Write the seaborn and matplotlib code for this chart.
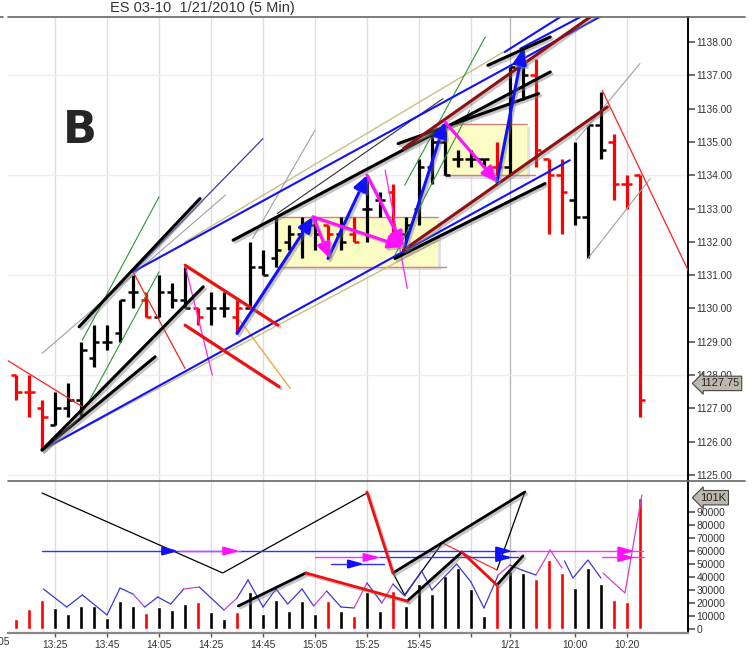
import numpy as np
import pandas as pd
import seaborn as sns
import matplotlib.pyplot as plt
import matplotlib.patheffects as pe
from matplotlib.patches import Rectangle
from matplotlib.lines import Line2D

sns.set_style("white")
plt.rcParams['font.family'] = ['Liberation Sans', 'DejaVu Sans']

# ---- 5 min bars: 13:10-16:15 (1/20) then 9:35-10:25 (1/21) ----
times = (list(pd.date_range('2010-01-20 13:10', '2010-01-20 16:15', freq='5min').strftime('%H:%M')) +
         list(pd.date_range('2010-01-21 09:35', '2010-01-21 10:25', freq='5min').strftime('%H:%M')))

opens = [1128.0, 1127.5, 1127.0, 1126.5, 1127.0, 1127.25, 1128.5, 1129.0, 1129.25, 1130.5,
         1130.25, 1129.75, 1130.5, 1130.25, 1130.0, 1130.0, 1130.0, 1129.75, 1130.0, 1131.25,
         1131.5, 1132.0, 1132.25, 1132.5, 1132.5, 1132.25, 1132.25, 1133.0, 1133.25, 1133.5,
         1132.25, 1133.0, 1134.25, 1135.0, 1134.5, 1134.5, 1134.5, 1134.25, 1134.25, 1137.25,
         1137.0, 1134.5, 1134.0, 1133.25, 1132.75, 1135.5, 1135.0, 1133.75, 1134.0]
highs = [1128.0, 1128.0, 1127.25, 1127.5, 1127.75, 1129.0, 1129.5, 1129.5, 1130.25, 1131.0,
         1130.5, 1131.0, 1130.75, 1131.25, 1130.0, 1130.5, 1130.5, 1130.25, 1132.0, 1131.75,
         1132.75, 1132.5, 1132.75, 1132.75, 1132.5, 1132.75, 1132.75, 1134.0, 1133.5, 1133.75,
         1132.75, 1134.5, 1135.25, 1135.5, 1134.75, 1134.75, 1134.5, 1135.0, 1137.25, 1137.75,
         1137.5, 1134.5, 1134.5, 1135.0, 1135.5, 1136.5, 1135.25, 1134.0, 1134.0]
lows = [1127.25, 1126.75, 1125.75, 1126.5, 1126.75, 1126.75, 1128.25, 1128.75, 1129.0, 1130.0,
        1129.75, 1129.75, 1130.0, 1130.0, 1129.5, 1129.5, 1129.75, 1129.25, 1130.0, 1131.0,
        1131.25, 1131.75, 1131.5, 1131.75, 1131.75, 1131.75, 1132.0, 1132.0, 1132.75, 1132.0,
        1132.0, 1132.5, 1133.75, 1134.0, 1134.25, 1134.25, 1134.25, 1134.0, 1134.0, 1136.25,
        1134.25, 1132.25, 1132.25, 1132.5, 1131.5, 1134.5, 1133.25, 1133.0, 1126.75]
closes = [1127.5, 1127.5, 1126.75, 1127.0, 1127.25, 1128.75, 1129.0, 1129.0, 1130.25, 1130.5,
          1129.75, 1130.5, 1130.25, 1130.0, 1129.75, 1130.0, 1130.0, 1130.0, 1131.25, 1131.0,
          1131.75, 1132.25, 1132.5, 1132.25, 1132.25, 1132.0, 1132.0, 1133.0, 1133.25, 1132.25,
          1132.5, 1134.25, 1135.0, 1134.0, 1134.5, 1134.5, 1134.5, 1134.25, 1137.25, 1137.0,
          1134.75, 1134.0, 1133.5, 1132.75, 1135.5, 1134.75, 1133.75, 1133.75, 1127.25]
volumes = [7700, 15400, 22300, 16200, 11500, 17700, 17700, 8500, 21500, 17700,
           12300, 16900, 14600, 19200, 20800, 13100, 7700, 13100, 28500, 11500,
           22300, 13800, 21500, 11500, 21500, 13500, 10000, 28500, 13800, 29200,
           17700, 34600, 26900, 40800, 46900, 30800, 10000, 33800, 44600, 43000,
           38500, 53000, 43000, 31500, 46900, 34600, 22300, 20800, 101000]
red_bars = [0, 1, 2, 10, 14, 17, 24, 26, 29, 37, 40, 41, 42, 46, 47, 48]

tick_bars = [3, 7, 11, 15, 19, 23, 27, 31, 35, 38, 43, 47]
tick_labels = ['13:25', '13:45', '14:05', '14:25', '14:45', '15:05', '15:25', '15:45', '', '1/21', '10:00', '10:20']
last_price = 1127.75
last_volume = 101000

# ---- hand drawn studies: ((bar, price), (bar, price)) ----
red_thin = [((-0.7, 1128.45), (5.1, 1127.05)), ((9.0, 1131.1), (13.0, 1128.2)), ((45.1, 1136.55), (51.7, 1131.15))]
black_thick = [((2.0, 1125.75), (10.7, 1128.55)), ((2.0, 1125.75), (14.4, 1130.65)),
               ((4.85, 1129.45), (14.15, 1133.3)), ((16.7, 1132.05), (41.1, 1137.1)),
               ((29.4, 1134.95), (40.2, 1136.45)), ((36.3, 1137.3), (41.1, 1138.15)),
               ((29.15, 1131.5), (40.7, 1133.75))]
gray_thin = [((2.0, 1128.65), (16.1, 1133.4)), ((18.2, 1132.1), (23.0, 1135.35)),
             ((44.0, 1131.5), (48.8, 1133.9)), ((43.1, 1135.05), (48.0, 1137.35))]
navy_thin = [((9.0, 1131.1), (19.0, 1135.1))]
green_thin = [((5.1, 1129.05), (11.0, 1133.35)), ((5.1, 1126.85), (11.0, 1131.1)),
              ((29.9, 1133.7), (36.1, 1138.15)), ((29.15, 1131.6), (34.9, 1135.95))]
blue_mid = [((2.0, 1125.75), (42.6, 1134.45)), ((9.0, 1131.1), (47.0, 1139.2)),
            ((38.8, 1137.8), (45.85, 1139.25)), ((37.6, 1137.7), (43.9, 1139.25))]
khaki_thin = [((2.0, 1125.75), (32.5, 1132.05)), ((13.0, 1132.0), (37.5, 1137.7))]
black_thin = [((20.1, 1132.85), (32.85, 1136.3))]
maroon_thick = [((29.8, 1134.8), (44.9, 1138.95)), ((29.8, 1131.75), (45.5, 1136.05))]
red_thick = [((13.0, 1131.3), (20.15, 1129.5)), ((13.0, 1129.5), (20.25, 1127.65))]
orange_thin = [((17.2, 1129.65), (21.1, 1127.6))]
magenta_thin = [((13.0, 1131.3), (15.1, 1128.0)), ((28.4, 1134.15), (30.1, 1130.6))]
blue_arrows = [((17.0, 1129.25), (22.85, 1132.75)), ((24.0, 1131.5), (27.0, 1134.0)),
               ((29.9, 1131.85), (33.0, 1135.6)), ((37.0, 1133.8), (39.0, 1137.8))]
magenta_arrows = [((22.85, 1132.75), (24.15, 1131.5)), ((22.85, 1132.75), (29.8, 1131.85)),
                  ((27.0, 1134.0), (29.8, 1131.85)), ((33.0, 1135.6), (37.0, 1133.8))]
zones = [(20.0, 32.45, 1131.25, 1132.75), (32.85, 39.3, 1134.0, 1135.55)]

# volume pane studies ((bar, volume), ...)
vol_black_thin = [[(2.0, 104600), (15.9, 43100), (27.0, 104600)],
                  [(29.0, 43100), (29.9, 26200), (32.8, 66200)],
                  [(37.0, 45400), (39.15, 105400)]]
vol_red_thin = [[(32.8, 66200), (37.0, 45400)]]
vol_black_thick = [[(29.0, 43100), (39.15, 105400)], [(17.1, 17700), (22.3, 43100)],
                   [(30.1, 21500), (34.3, 59200)], [(37.0, 33800), (39.0, 56200)]]
vol_red_thick = [[(27.0, 105400), (29.0, 43100)], [(22.3, 43100), (30.1, 21500)],
                 [(34.3, 59200), (37.0, 33800)]]
# horizontal levels: (volume, start bar, end bar, color)
vol_levels = [(60000, 2.0, 38.5, 'blue'), (60000, 12.5, 17.2, 'magenta'), (60000, 38.5, 48.2, 'magenta'),
              (55000, 23.0, 28.0, 'magenta'), (55000, 28.0, 38.6, 'blue'), (55000, 45.1, 48.3, 'magenta'),
              (50000, 24.2, 28.3, 'blue')]
vol_level_heads = [(60000, 12.5, 'blue'), (60000, 17.2, 'magenta'), (60000, 38.2, 'blue'), (60000, 47.6, 'magenta'),
                   (55000, 28.0, 'magenta'), (55000, 38.2, 'blue'), (55000, 47.6, 'magenta'), (50000, 26.8, 'blue')]
zz_bars = [2.1, 3.9, 5.1, 7.0, 8.0, 9.0, 9.9, 10.9, 11.9, 12.9, 14.1, 16.0, 17.0, 17.85, 19.0, 20.0,
           20.9, 22.0, 22.9, 23.9, 25.0, 26.0, 27.0, 28.15, 29.0, 29.9, 31.2, 32.0, 33.9, 35.0, 36.0,
           37.1, 38.0, 38.9, 40.0, 41.1, 42.0]
zz_vols = [30800, 16900, 26200, 10800, 31500, 26900, 16900, 24600, 19200, 30800, 32300, 14600, 23800,
           37700, 16900, 30800, 19200, 30800, 17700, 29200, 16900, 16200, 35400, 20000, 34600, 25400,
           44600, 30000, 50000, 36200, 16200, 41500, 49200, 45400, 41500, 60800, 46900]
zz_magenta_from = [9.0, 12.9, 16.0, 22.9, 26.0, 28.15, 37.1, 40.0, 41.1]
zz2_bars = [42.2, 42.85, 44.0, 45.0]
zz2_vols = [52300, 39200, 53100, 39200]
zz3_bars = [45.15, 46.85, 48.15]
zz3_vols = [43100, 27700, 103000]

# ---- figure ----
W, H = 753, 651
fig = plt.figure(figsize=(W / 100, H / 100), dpi=100)
ax = fig.add_axes([8 / W, (H - 481) / H, 680 / W, 464 / H])
axv = fig.add_axes([8 / W, (H - 633) / H, 680 / W, 152 / H])
xlim = (-0.62, 51.7)

shadow = [pe.SimpleLineShadow(offset=(1.5, -1.5), shadow_color='#808080', alpha=0.45), pe.Normal()]

x = np.arange(len(times))
is_red = np.isin(x, red_bars)
bar_colors = np.where(is_red, 'red', 'black')

# grid
for a in (ax, axv):
    for b in [-1] + tick_bars:
        a.axvline(b, color='#b8b8b8' if b == 38 else '#dedede', lw=1, zorder=0)
for p in [1125, 1128, 1131, 1134, 1137]:
    ax.axhline(p, color='#efefe4', lw=1, zorder=0)

# zones
for x0, x1, p0, p1 in zones:
    ax.add_patch(Rectangle((x0 + 0.25, p0 - 0.1), x1 - x0, p1 - p0, fc='#d0d0d0', ec='none', alpha=0.6, zorder=1))
    ax.add_patch(Rectangle((x0, p0), x1 - x0, p1 - p0, fc='#fbfbc4', ec='none', zorder=1.1))
    ax.plot([x0, x1], [p1, p1], color='#d08080', lw=1, zorder=1.2)
    ax.plot([x0, x1 + 0.6], [p0, p0], color='#d08080', lw=1, zorder=1.2)

# OHLC bars
ax.vlines(x, lows, highs, colors=bar_colors, lw=2.3, zorder=3)
ax.hlines(opens, x - 0.42, x, colors=bar_colors, lw=1.8, zorder=3)
ax.hlines(closes, x, x + 0.42, colors=bar_colors, lw=1.8, zorder=3)


def draw(a, segs, color, lw, fx=False, z=4):
    for seg in segs:
        xs, ys = zip(*seg)
        ln, = a.plot(xs, ys, color=color, lw=lw, zorder=z, solid_capstyle='round')
        if fx:
            ln.set_path_effects(shadow)


draw(ax, khaki_thin, '#c8bf86', 1.0)
draw(ax, gray_thin, '#a0a0a0', 0.8)
draw(ax, navy_thin, '#3a3aa8', 0.9)
draw(ax, green_thin, '#2a982a', 0.8)
draw(ax, black_thin, '#303030', 0.8)
draw(ax, orange_thin, '#e8a848', 1.0)
draw(ax, red_thin, '#ff2020', 0.9)
draw(ax, magenta_thin, '#ff20ff', 0.9)
draw(ax, blue_mid, '#1010ff', 1.5)
draw(ax, black_thick, 'black', 2.2, fx=True)
draw(ax, maroon_thick, '#8b1010', 2.2, fx=True)
draw(ax, red_thick, '#ee1010', 2.2, fx=True)

for arrows, col in ((blue_arrows, '#1010ff'), (magenta_arrows, '#ff10ff')):
    for (x0, y0), (x1, y1) in arrows:
        an = ax.annotate('', xy=(x1, y1), xytext=(x0, y0), zorder=5,
                         arrowprops=dict(arrowstyle='-|>,head_length=0.9,head_width=0.4',
                                         color=col, lw=2.2, shrinkA=0, shrinkB=0))
        an.arrow_patch.set_path_effects(shadow)

ax.text(4.92, 1135.35, 'B', fontsize=32, fontweight='bold', family='DejaVu Sans',
        ha='center', va='center', zorder=6)

ax.set_xlim(*xlim)
ax.set_ylim(1124.82, 1138.75)
ax.set_xticks([])
ax.yaxis.tick_right()
ax.set_yticks(np.arange(1125, 1139))
ax.set_yticklabels([f'{v:.2f}' for v in np.arange(1125, 1139)])
ax.tick_params(axis='y', right=True, length=5, width=1.2, color='#555555',
               labelsize=7.3, labelcolor='#333333', pad=1)
for s in ('left', 'top', 'bottom'):
    ax.spines[s].set_visible(False)
ax.spines['right'].set_color('black')
ax.spines['right'].set_linewidth(1.4)
ax.text(1.018, last_price, f'{last_price:.2f}', transform=ax.get_yaxis_transform(), fontsize=8,
        ha='left', va='center', zorder=10, clip_on=False,
        bbox=dict(boxstyle='larrow,pad=0.2', fc='#bcb8ab', ec='#444444', lw=0.8))

# ---- volume pane ----
vol_df = pd.DataFrame({'bar': x, 'volume': volumes, 'side': np.where(is_red, 'down', 'up')})
sns.barplot(data=vol_df, x='bar', y='volume', hue='side', palette={'up': 'black', 'down': 'red'},
            native_scale=True, width=0.34, dodge=False, errorbar=None, legend=False,
            saturation=1, ax=axv, zorder=3)

draw(axv, vol_black_thin, 'black', 0.9)
draw(axv, vol_red_thin, '#ff3030', 0.9)
for v, x0, x1, c in vol_levels:
    axv.plot([x0, x1], [v, v], color='#3030ff' if c == 'blue' else '#ff30ff', lw=1.0, zorder=4)
for v, xh, c in vol_level_heads:
    axv.annotate('', xy=(xh, v), xytext=(xh - 1.2, v), zorder=5,
                 arrowprops=dict(arrowstyle='-|>,head_length=0.9,head_width=0.25',
                                 color='#1010ff' if c == 'blue' else '#ff10ff', lw=1.5, shrinkA=0, shrinkB=0))
for i in range(len(zz_bars) - 1):
    col = '#d040d0' if zz_bars[i] in zz_magenta_from else '#3a3ad0'
    axv.plot(zz_bars[i:i + 2], zz_vols[i:i + 2], color=col, lw=0.9, zorder=4)
axv.plot(zz2_bars, zz2_vols, color='#3a3ad0', lw=0.9, zorder=4)
axv.plot(zz3_bars, zz3_vols, color='#d040d0', lw=0.9, zorder=4)
draw(axv, vol_black_thick, 'black', 2.0, fx=True, z=5)
draw(axv, vol_red_thick, '#ee1010', 2.0, fx=True, z=5)

axv.set_xlim(*xlim)
axv.set_ylim(-3077, 113846)
axv.set_xlabel('')
axv.set_ylabel('')
axv.yaxis.tick_right()
axv.set_yticks(np.arange(0, 100000, 10000))
axv.set_yticklabels([str(v) for v in range(0, 100000, 10000)])
axv.tick_params(axis='y', right=True, length=5, width=1.2, color='#555555',
                labelsize=7.5, labelcolor='#333333', pad=1)
axv.set_xticks(tick_bars)
axv.set_xticklabels(tick_labels)
axv.tick_params(axis='x', bottom=True, length=3, width=1, color='#555555',
                labelsize=7.3, labelcolor='#333333', pad=2)
for s in ('left', 'top'):
    axv.spines[s].set_visible(False)
axv.spines['right'].set_color('black')
axv.spines['right'].set_linewidth(1.4)
axv.spines['bottom'].set_color('#888888')
axv.spines['bottom'].set_linewidth(1.6)
axv.text(1.018, last_volume, f'{last_volume // 1000}K', transform=axv.get_yaxis_transform(), fontsize=8,
         ha='left', va='center', zorder=10, clip_on=False,
         bbox=dict(boxstyle='larrow,pad=0.2', fc='#bcb8ab', ec='#444444', lw=0.8))

# frame lines and title
for y in (17, 481):
    fig.add_artist(Line2D([8 / W, 745 / W], [1 - y / H] * 2, color='#666666', lw=1.2))
fig.add_artist(Line2D([0, 3 / W], [1 - 17 / H] * 2, color='#666666', lw=1.2))
fig.text(202 / W, 1 - 8 / H, 'ES 03-10  1/21/2010 (5 Min)', fontsize=10.5, color='#333333',
         ha='center', va='center')
fig.text(-3 / W, 1 - 642 / H, '13:05', fontsize=7.3, color='#333333', ha='center', va='center')

fig.savefig('out.png', dpi=100)
